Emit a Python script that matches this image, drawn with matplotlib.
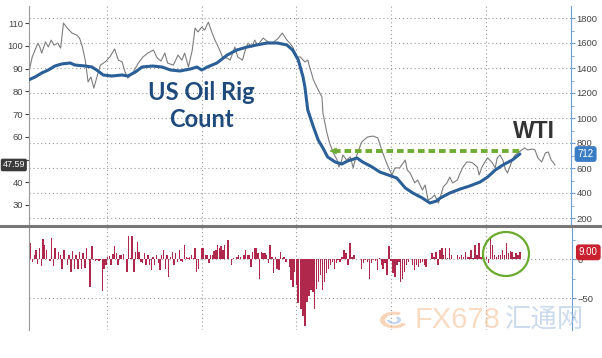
import numpy as np
import matplotlib.pyplot as plt
import matplotlib.transforms as mtransforms
from matplotlib.patches import Ellipse, Wedge
from matplotlib.lines import Line2D

plt.rcParams['font.family'] = ['Liberation Sans', 'DejaVu Sans']

# time axis in decimal years
years = [2013, 2014, 2015, 2016, 2017]

# WTI crude (left axis, $)
wti_t = [2012.18, 2012.21, 2012.24, 2012.27, 2012.29, 2012.31, 2012.35, 2012.38, 2012.41, 2012.44,
         2012.48, 2012.51, 2012.54, 2012.58, 2012.63, 2012.68, 2012.71, 2012.74, 2012.77, 2012.80,
         2012.83, 2012.86, 2012.89, 2012.93, 2012.98, 2013.03, 2013.08, 2013.12, 2013.16, 2013.19,
         2013.22, 2013.27, 2013.33, 2013.38, 2013.43, 2013.49, 2013.53, 2013.57, 2013.61, 2013.64,
         2013.70, 2013.75, 2013.79, 2013.82, 2013.86, 2013.90, 2013.93, 2013.96, 2014.00, 2014.03,
         2014.07, 2014.11, 2014.14, 2014.19, 2014.22, 2014.27, 2014.30, 2014.35, 2014.38, 2014.43,
         2014.46, 2014.49, 2014.53, 2014.56, 2014.59, 2014.65, 2014.70, 2014.75, 2014.81, 2014.85,
         2014.90, 2014.93, 2014.96, 2015.01, 2015.04, 2015.09, 2015.12, 2015.14, 2015.18, 2015.23,
         2015.27, 2015.28, 2015.32, 2015.35, 2015.39, 2015.43, 2015.45, 2015.48, 2015.49, 2015.53,
         2015.57, 2015.60, 2015.62, 2015.65, 2015.69, 2015.75, 2015.81, 2015.86, 2015.90, 2015.94,
         2015.97, 2016.01, 2016.04, 2016.09, 2016.15, 2016.17, 2016.20, 2016.25, 2016.28, 2016.33,
         2016.36, 2016.39, 2016.43, 2016.46, 2016.50, 2016.52, 2016.55, 2016.59, 2016.62, 2016.65,
         2016.70, 2016.73, 2016.76, 2016.80, 2016.83, 2016.86, 2016.91, 2016.93, 2016.96, 2016.99,
         2017.02, 2017.07, 2017.10, 2017.12, 2017.15, 2017.18, 2017.21, 2017.23, 2017.28, 2017.31,
         2017.34, 2017.38, 2017.41, 2017.44, 2017.49, 2017.52, 2017.55, 2017.59, 2017.63, 2017.66,
         2017.69, 2017.71, 2017.73]
wti = [89.3, 95.1, 98.1, 101.2, 99.5, 96.8, 101.7, 99.5, 102.5, 100.3,
       101.2, 99.0, 110.0, 107.8, 105.6, 104.7, 103.4, 99.5, 93.7, 84.1,
       86.3, 81.4, 85.8, 91.5, 92.9, 95.1, 98.6, 93.7, 92.9, 88.5,
       85.8, 88.0, 92.4, 95.1, 96.8, 98.1, 94.6, 93.3, 96.8, 92.4,
       91.5, 95.9, 93.7, 96.8, 90.7, 98.1, 107.8, 106.1, 108.2, 106.9,
       110.4, 105.6, 102.5, 98.1, 95.1, 94.6, 93.7, 99.5, 95.1, 93.7,
       98.1, 101.2, 99.5, 102.5, 100.3, 103.4, 101.7, 101.2, 103.4, 105.6,
       102.5, 101.2, 99.5, 95.1, 95.1, 92.9, 93.7, 90.7, 85.0, 80.6,
       77.5, 70.4, 62.1, 57.3, 52.9, 49.8, 46.7, 49.8, 52.0, 49.8,
       51.1, 46.3, 49.8, 53.3, 57.7, 59.9, 60.3, 59.5, 54.2, 49.8,
       46.7, 43.2, 46.3, 46.3, 49.8, 45.4, 44.1, 39.7, 41.0, 36.6,
       38.8, 32.2, 33.1, 34.4, 30.9, 33.5, 37.9, 39.7, 42.3, 39.7,
       41.0, 44.1, 46.7, 48.9, 48.9, 48.5, 46.7, 43.2, 46.7, 48.9,
       50.7, 48.5, 46.3, 50.7, 52.0, 49.8, 45.4, 44.1, 49.8, 52.0,
       52.9, 54.2, 55.1, 54.2, 54.6, 54.2, 50.7, 48.9, 52.9, 53.3,
       49.8, 48.9, 47.59]

# US oil rig count (right axis)
rig_t = [2012.17, 2012.24, 2012.31, 2012.38, 2012.45, 2012.52, 2012.61, 2012.66, 2012.77, 2012.84,
         2012.89, 2012.96, 2013.05, 2013.16, 2013.22, 2013.30, 2013.37, 2013.48, 2013.58, 2013.67,
         2013.77, 2013.88, 2013.95, 2014.00, 2014.06, 2014.16, 2014.27, 2014.37, 2014.48, 2014.58,
         2014.69, 2014.80, 2014.90, 2014.96, 2015.02, 2015.07, 2015.09, 2015.12, 2015.18, 2015.23,
         2015.28, 2015.33, 2015.41, 2015.48, 2015.54, 2015.64, 2015.70, 2015.80, 2015.88, 2015.97,
         2016.06, 2016.15, 2016.23, 2016.33, 2016.41, 2016.48, 2016.52, 2016.62, 2016.73, 2016.83,
         2016.94, 2017.02, 2017.10, 2017.18, 2017.28, 2017.36]
rig = [1304, 1328, 1360, 1384, 1416, 1432, 1440, 1424, 1416, 1408,
       1384, 1344, 1336, 1344, 1336, 1368, 1408, 1416, 1408, 1384,
       1376, 1392, 1408, 1384, 1408, 1440, 1504, 1544, 1568, 1584,
       1600, 1600, 1584, 1544, 1464, 1328, 1248, 1064, 928, 824,
       760, 688, 648, 632, 656, 680, 648, 608, 568, 544,
       520, 440, 400, 360, 320, 336, 360, 400, 432, 456,
       488, 528, 584, 624, 664, 712]

# weekly change in rig count
chg_2012_14 = [28, 21, -3, 6, 12, -6, 15, -8, 26, 18, 12, 1, -2, 27, -9, 15, 1, 10, 6, -12,
               12, 1, -7, 6, -16, 11, -12, 6, -12, 10, -12, 8, -11, 14, 1, -36, 17, -1, -2, -1,
               -2, -1, -41, -12, -7, 3, 4, -7, 7, 17, 8, -7, 5, 6, 7, 1, -16, 30, 2, 30,
               -16, 10, 22, 10, -3, -5, 8, -7, 6, -7, -14, 3, -7, 5, -5, -14, 6, 12, -12, 6,
               -23, 3, 10, -7, 8, -3, 12, -2, -3, 19, 3, 2, 3, 5, 2, 14, -16, -12, 1, 15,
               15, 6, 6, -5, 6, 5, 11, 12, 18, 14, 17, 12, 18, 1, 25, 1, -7, 2, 1, 3,
               6, 3, 1, 6, 12, 6, 5, -10, 10, 14, 14, 8, -25, 10, 8, 8, 6, -5, 18, 3,
               -18, 3, -12, -14, 10, 2, 3, -3, 1, -10, -27, -36, -16, -33, -57]
chg_2015_17 = [-64, -73, -86, -55, -47, -40, -42, -64, -38, -29, -20, -40, -29, -18, -12, -7, -3, -12, -5, -1,
               -3, 3, 12, 8, -7, 21, 3, 5, 1, 1, 1, -12, -5, -1, -3, -25, -5, -1, -2, -14,
               2, -7, -12, -5, -20, 17, -2, -18, -23, -7, -3, -29, -25, -16, -7, -3, 1, -7, -14, -7,
               -10, -5, -3, -7, -10, 1, 1, 8, 3, 10, -7, 12, 14, 6, 14, 2, 14, 6, 1, 1,
               6, 3, 5, 3, 10, 3, 3, 12, 2, 19, 5, 21, 3, 6, 1, 3, -5, 28, 19, 6,
               3, 5, 6, 12, 6, 21, 8, 11, 10, 3, 8, 6, 9]

W, H = 602, 358
fig = plt.figure(figsize=(W / 100, H / 100), dpi=100)

x0, x1 = 2012.176, 2017.90
grid_kw = dict(color='#9a9a9a', linestyle=(0, (1, 2.5)), linewidth=0.8)
blue_ax = '#6d9fd4'

# ---- top panel
ax = fig.add_axes([29 / W, 1 - 225 / H, 542 / W, 219 / H])
axr = ax.twinx()
ax.plot(wti_t, wti, color='#7d7d7d', lw=0.8)
axr.plot(rig_t, rig, color='#2b5f97', lw=2.2, solid_capstyle='round')
ax.set_xlim(x0, x1)
ax.set_ylim(21.2, 117.5)
axr.set_ylim(144, 1896)
ax.set_yticks(range(30, 111, 10))
# the "50" label sits under the 47.59 tag
ax.set_yticklabels(['30', '40', '', '60', '70', '80', '90', '100', '110'])
axr.set_yticks(range(200, 1801, 200))
axr.set_yticks(range(300, 1801, 200), minor=True)
ax.set_xticks(years)
ax.tick_params(axis='x', length=0, labelbottom=False)
ax.tick_params(axis='y', direction='out', length=3, labelsize=6.8, colors='#444444', pad=1)
axr.tick_params(axis='y', which='both', direction='out', length=3, labelsize=6.8,
                colors='#444444', pad=1)
axr.tick_params(axis='y', which='both', color=blue_ax)
axr.tick_params(axis='y', which='minor', length=2)
ax.grid(axis='x', **grid_kw)
axr.grid(axis='y', **grid_kw)
for s in ['top', 'bottom', 'right']:
    ax.spines[s].set_visible(False)
for s in ['top', 'bottom', 'left']:
    axr.spines[s].set_visible(False)
ax.spines['left'].set_color('#999999')
axr.spines['right'].set_color(blue_ax)

# green dashed arrow at current rig count level
axr.plot([2015.40, 2017.36], [736, 736], color='#6fac34', lw=2.8, dashes=(1.7, 1.0))
axr.annotate('', xy=(2015.32, 736), xytext=(2015.45, 736),
             arrowprops=dict(arrowstyle='-|>', color='#6fac34', lw=0.5, mutation_scale=11))

# last value tags
tl = mtransforms.blended_transform_factory(ax.transAxes, ax.transData)
ax.text(-0.028, 47.59, '47.59', transform=tl, ha='center', va='center', fontsize=6.5,
        color='white', clip_on=False, zorder=10,
        bbox=dict(boxstyle='round,pad=0.2', fc='#3a3a3a', ec='none'))
tr = mtransforms.blended_transform_factory(axr.transAxes, axr.transData)
axr.text(1.027, 712, '712', transform=tr, ha='center', va='center', fontsize=7,
         color='white', clip_on=False, zorder=10,
         bbox=dict(boxstyle='round,pad=0.3', fc='#3b7dc4', ec='none'))

fig.text(201 / W, 1 - 100 / H, 'US Oil Rig', ha='center', va='baseline', fontsize=17,
         fontweight='bold', family=['Lato', 'DejaVu Sans'], color='#1f4a7c')
fig.text(201 / W, 1 - 127 / H, 'Count', ha='center', va='baseline', fontsize=17,
         fontweight='bold', family=['Lato', 'DejaVu Sans'], color='#1f4a7c')
fig.text(534 / W, 1 - 138.5 / H, 'WTI', ha='center', va='baseline', fontsize=16.5,
         fontweight='bold', color='#333333')

# ---- bottom panel
axb = fig.add_axes([29 / W, 1 - 330 / H, 543 / W, 103 / H])
xa = np.linspace(2012.176, 2015.017, len(chg_2012_14))
xb = np.linspace(2015.049, 2017.361, len(chg_2015_17))
axb.bar(xa, chg_2012_14, width=0.0150, color='#b0294c', linewidth=0)
axb.bar(xb, chg_2015_17, width=0.0150, color='#b0294c', linewidth=0)
axb.set_xlim(x0, x1 + 0.01)
axb.set_ylim(-91.2, 41.7)
axb.set_xticks(years)
axb.yaxis.tick_right()
axb.set_yticks([-50, 0])
axb.set_yticks([-75, -25, 25], minor=True)
axb.tick_params(axis='x', length=0, labelbottom=False)
axb.tick_params(axis='y', which='both', direction='out', length=3, labelsize=6.8,
                labelcolor='#444444', color=blue_ax, pad=1)
axb.tick_params(axis='y', which='minor', length=2)
axb.grid(axis='both', **grid_kw)
axb.set_axisbelow(True)
for s in ['top', 'bottom']:
    axb.spines[s].set_visible(False)
axb.spines['left'].set_color('#999999')
axb.spines['right'].set_color(blue_ax)
tb = mtransforms.blended_transform_factory(axb.transAxes, axb.transData)
axb.text(1.03, 9, '9.00', transform=tb, ha='center', va='center', fontsize=7,
         color='white', clip_on=False, zorder=10,
         bbox=dict(boxstyle='round,pad=0.3', fc='#c8202e', ec='none'))

# panel separator and highlight circle
fig.add_artist(Line2D([0, 1], [1 - 226 / H, 1 - 226 / H], color='#777777', lw=2.2,
                      transform=fig.transFigure))
fig.add_artist(Ellipse((506 / W, 1 - 254 / H), 46 / W, 44 / H, transform=fig.transFigure,
                       fill=False, ec='#6aab2e', lw=1.6))

# watermark
fig.add_artist(Wedge((394 / W, 1 - 320 / H), 14 / W, 60, 330, width=5 / W,
                     transform=fig.transFigure, fc='#f4b98a', ec='none', alpha=0.6))
fig.add_artist(Wedge((394 / W, 1 - 320 / H), 7 / W, 180, 420, width=3.5 / W,
                     transform=fig.transFigure, fc='#9bbbe0', ec='none', alpha=0.6))
fig.text(458 / W, 1 - 320 / H, 'FX678', ha='center', va='center', fontsize=21,
         color='#f6c49a', alpha=0.6)
fig.text(544 / W, 1 - 320 / H, '汇通网', ha='center', va='center', fontsize=19,
         family=['Noto Sans CJK SC', 'DejaVu Sans'], color='#a9c3e2', alpha=0.6)

fig.savefig('out.png', dpi=100)
